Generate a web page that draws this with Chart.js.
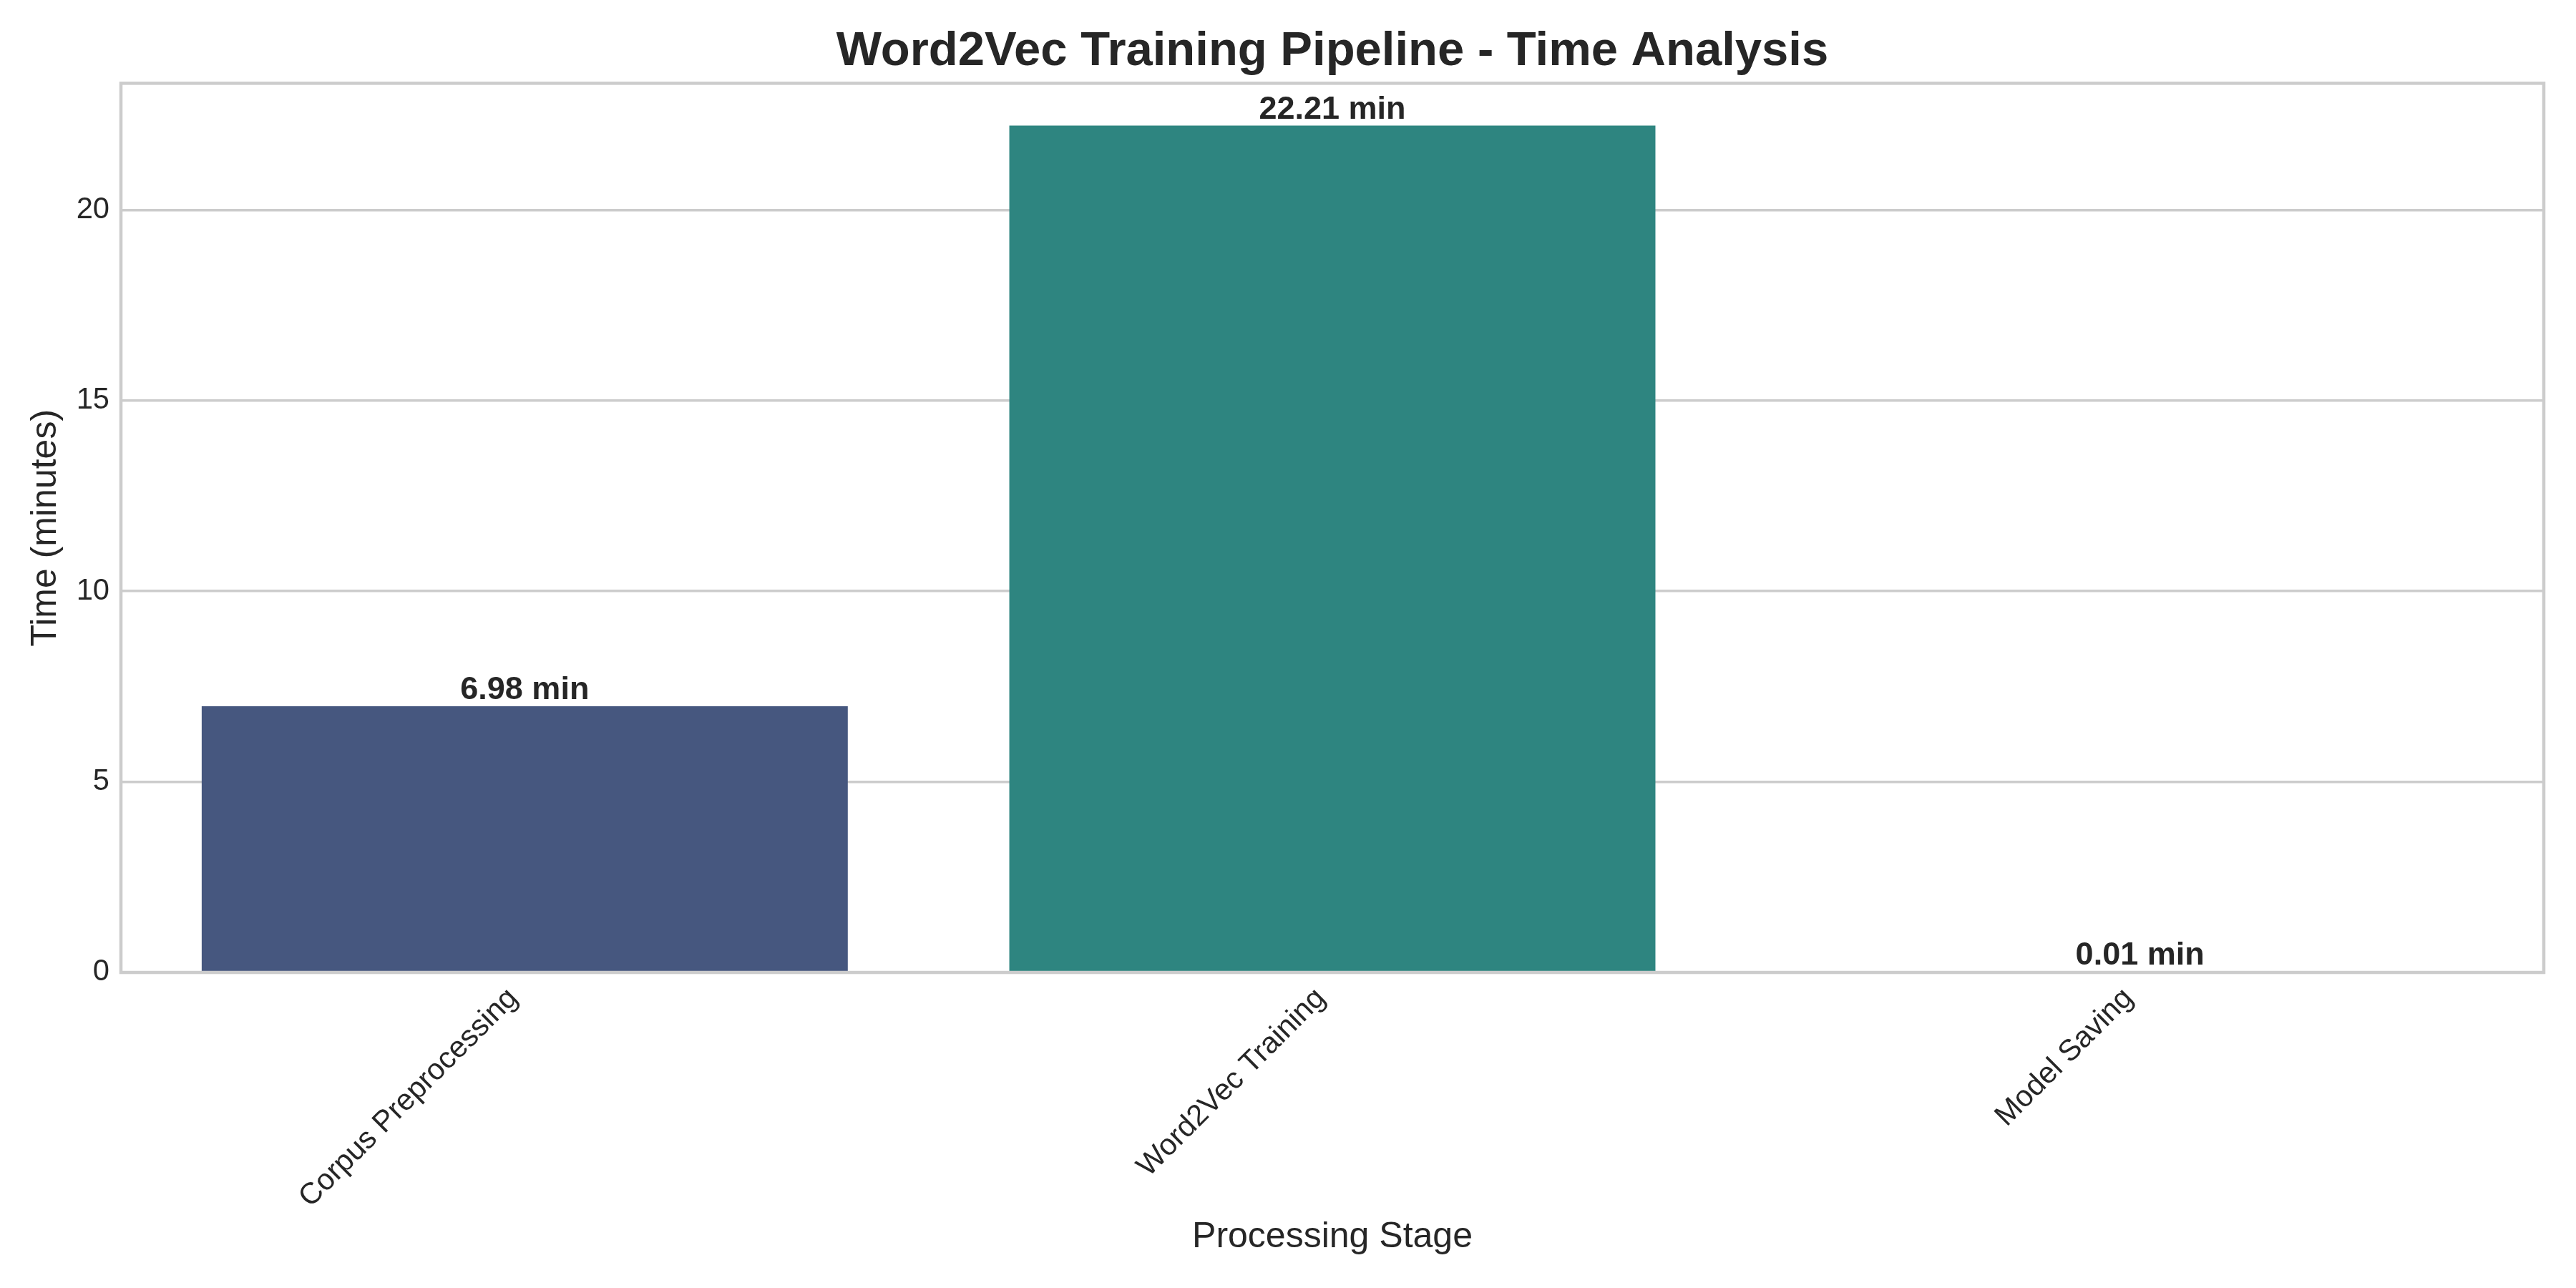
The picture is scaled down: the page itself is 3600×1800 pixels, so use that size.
<!DOCTYPE html>
<html>
<head>
<meta charset="utf-8">
<script src="https://cdn.jsdelivr.net/npm/chart.js@4/dist/chart.umd.min.js"></script>
<style>
  html, body { margin: 0; padding: 0; background: #ffffff; }
  #wrap { width: 3600px; height: 1800px; position: relative; }
</style>
</head>
<body>
<div id="wrap"><canvas id="c" width="3600" height="1800"></canvas></div>
<script>
const categories = ["Corpus Preprocessing", "Word2Vec Training", "Model Saving"];
const timesMinutes = [6.98, 22.21, 0.01];
const barColors = ["#46577f", "#2e8580", "#6bbb6e"];
const yTickValues = [0, 5, 10, 15, 20];
const titleText = "Word2Vec Training Pipeline - Time Analysis";
const xAxisTitle = "Processing Stage";
const yAxisTitle = "Time (minutes)";
const valueSuffix = " min";

const FONT = "'Liberation Sans', Arial, sans-serif";
const TEXT = "#262626";
const GRID = "#cccccc";

const yMax = Math.max(...timesMinutes) * 1.05;

// Center the title over the plot area (as matplotlib does)
const centerTitle = {
  id: 'centerTitle',
  afterLayout(chart) {
    const t = chart.titleBlock;
    if (t) {
      t.left = chart.chartArea.left;
      t.right = chart.chartArea.right;
      t.width = t.right - t.left;
    }
  }
};

const frame = {
  id: 'frame',
  afterDraw(chart) {
    const {ctx, chartArea: a} = chart;
    ctx.save();
    ctx.strokeStyle = GRID;
    ctx.lineWidth = 4.5;
    ctx.strokeRect(a.left, a.top, a.right - a.left, a.bottom - a.top);
    ctx.restore();
  }
};

const barLabels = {
  id: 'barLabels',
  afterDatasetsDraw(chart) {
    const {ctx} = chart;
    const meta = chart.getDatasetMeta(0);
    ctx.save();
    ctx.font = "bold 45px " + FONT;
    ctx.fillStyle = TEXT;
    ctx.textAlign = 'center';
    ctx.textBaseline = 'alphabetic';
    meta.data.forEach((bar, i) => {
      const v = chart.data.datasets[0].data[i];
      ctx.fillText(v.toFixed(2) + valueSuffix, bar.x, bar.y - 10);
    });
    ctx.restore();
  }
};

new Chart(document.getElementById('c'), {
  type: 'bar',
  data: {
    labels: categories,
    datasets: [{
      data: timesMinutes,
      backgroundColor: barColors,
      borderWidth: 0,
      categoryPercentage: 1.0,
      barPercentage: 0.8
    }]
  },
  options: {
    responsive: false,
    animation: false,
    devicePixelRatio: 1,
    layout: { padding: { left: 0, right: 45, top: 0, bottom: 0 } },
    plugins: {
      legend: { display: false },
      tooltip: { enabled: false },
      title: {
        display: true,
        text: titleText,
        color: TEXT,
        font: { family: FONT, size: 67, weight: 'bold', lineHeight: 1.2 },
        padding: { top: 32, bottom: 4 }
      }
    },
    scales: {
      x: {
        type: 'category',
        offset: true,
        grid: { display: false, drawTicks: false },
        border: { display: false },
        ticks: {
          color: TEXT,
          font: { family: FONT, size: 41.7 },
          maxRotation: 45,
          minRotation: 45,
          padding: 12,
          labelOffset: -16,
          autoSkip: false
        },
        title: {
          display: true,
          text: xAxisTitle,
          color: TEXT,
          font: { family: FONT, size: 50, lineHeight: 1.2 },
          padding: { top: 0, bottom: 41 }
        },
        afterFit(scale) { scale.height = 441; }
      },
      y: {
        type: 'linear',
        min: 0,
        max: yMax,
        grid: { display: true, color: GRID, lineWidth: 3.5, drawTicks: false },
        border: { display: false },
        ticks: {
          color: TEXT,
          font: { family: FONT, size: 41.7 },
          padding: 16
        },
        afterBuildTicks(scale) {
          scale.ticks = yTickValues.map(v => ({ value: v }));
        },
        title: {
          display: true,
          text: yAxisTitle,
          color: TEXT,
          font: { family: FONT, size: 50, lineHeight: 1.2 },
          padding: { top: 34, bottom: 0 }
        },
        afterFit(scale) { scale.width = 169; }
      }
    }
  },
  plugins: [centerTitle, frame, barLabels]
});
</script>
</body>
</html>
